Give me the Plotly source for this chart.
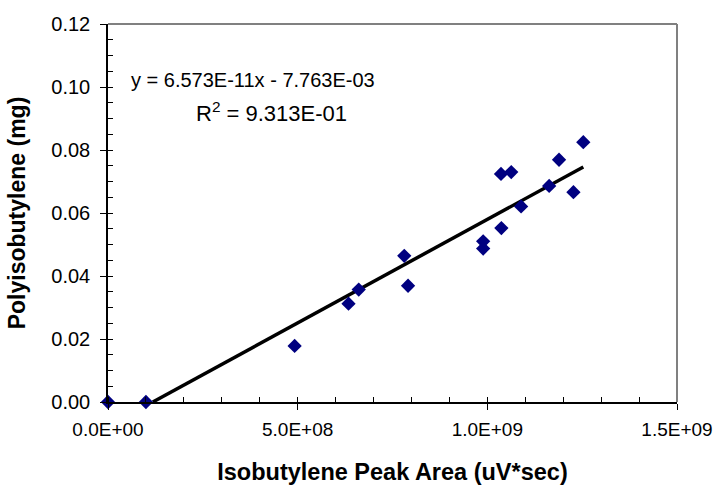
import numpy as np
import plotly.graph_objects as go

# Calibration data: isobutylene peak area vs. polyisobutylene mass
peak_area = [0.0, 1.0e8, 4.92e8, 6.34e8, 6.61e8, 7.81e8, 7.91e8, 9.89e8, 9.89e8,
             10.37e8, 10.36e8, 10.63e8, 10.89e8, 11.63e8, 11.89e8, 12.27e8, 12.53e8]
pib_mg = [0.0, 0.0, 0.0178, 0.0312, 0.0357, 0.0464, 0.0369, 0.0510, 0.0487,
          0.0552, 0.0724, 0.0730, 0.0621, 0.0686, 0.0769, 0.0666, 0.0825]

# Linear trendline coefficients
slope = 6.573e-11
intercept = -7.763e-03
r_squared = 9.313e-01

x_tickvals = [0, 5e8, 1e9, 1.5e9]
x_ticktext = ["0.0E+00", "5.0E+08", "1.0E+09", "1.5E+09"]
y_tickvals = [0.00, 0.02, 0.04, 0.06, 0.08, 0.10, 0.12]

FONT = "Liberation Sans, Arial, sans-serif"

# Trendline spans from the x-intercept (y = 0) to the largest peak area
x_start = -intercept / slope
x_line = np.array([x_start, max(peak_area)])
y_line = slope * x_line + intercept

fig = go.Figure()
fig.add_trace(go.Scatter(
    x=x_line, y=y_line, mode="lines",
    line=dict(color="black", width=3.5),
    hoverinfo="skip", showlegend=False,
))
fig.add_trace(go.Scatter(
    x=peak_area, y=pib_mg, mode="markers",
    marker=dict(symbol="diamond", size=11, color="#000080"),
    showlegend=False, cliponaxis=False,
))

eq_text = f"y = {slope:.3E}x - {abs(intercept):.3E}"
r2_text = f"R<sup>2</sup> = {r_squared:.3E}"
fig.add_annotation(x=129, y=80, xref="paper", yref="paper", text=eq_text,
                   showarrow=False, xanchor="left", yanchor="middle",
                   font=dict(family=FONT, size=20, color="black"))
fig.add_annotation(x=194, y=112, xref="paper", yref="paper", text=r2_text,
                   showarrow=False, xanchor="left", yanchor="middle",
                   font=dict(family=FONT, size=22, color="black"))

# Gray frame on the top and right sides of the plot area
fig.add_shape(type="line", xref="x domain", yref="y domain",
              x0=0, x1=1, y0=1, y1=1, line=dict(color="#808080", width=2))
fig.add_shape(type="line", xref="x domain", yref="y domain",
              x0=1, x1=1, y0=0, y1=1, line=dict(color="#808080", width=2))

fig.update_xaxes(
    range=[0, 1.5e9], tickvals=x_tickvals, ticktext=x_ticktext, automargin=False,
    showgrid=False, zeroline=False, showline=True, linecolor="black", linewidth=1.5,
    ticks="outside", ticklen=6, tickcolor="black", tickwidth=1,
    ticklabelstandoff=3,
    minor=dict(dtick=1e8, ticks="inside", ticklen=5, tickcolor="black", tickwidth=1, showgrid=False),
    tickfont=dict(family=FONT, size=19, color="black"),
    title=dict(text="<b>Isobutylene Peak Area (uV*sec)</b>", standoff=25,
               font=dict(family=FONT, size=23.5, color="black")),
)
fig.update_yaxes(
    range=[0, 0.12], tickvals=y_tickvals, tickformat=".2f", automargin=False,
    showgrid=False, zeroline=False, showline=True, linecolor="black", linewidth=1.5,
    ticks="outside", ticklen=6, tickcolor="black", tickwidth=1,
    ticklabelstandoff=6,
    minor=dict(dtick=0.005, ticks="inside", ticklen=5, tickcolor="black", tickwidth=1, showgrid=False),
    tickfont=dict(family=FONT, size=20, color="black"),
    title=dict(text="<b>Polyisobutylene (mg)</b>", standoff=19,
               font=dict(family=FONT, size=23, color="black")),
)

fig.update_layout(
    width=721, height=489,
    margin=dict(l=108, r=44, t=24, b=87),
    paper_bgcolor="white", plot_bgcolor="white",
)

# Annotation positions are given in pixels; convert to paper fractions
W, H = 721, 489
m = fig.layout.margin
pw, ph = W - m.l - m.r, H - m.t - m.b
for ann in fig.layout.annotations:
    px, py = ann.x, ann.y
    ann.x = (px - m.l) / pw
    ann.y = 1 - (py - m.t) / ph

fig.write_html("out.html")
